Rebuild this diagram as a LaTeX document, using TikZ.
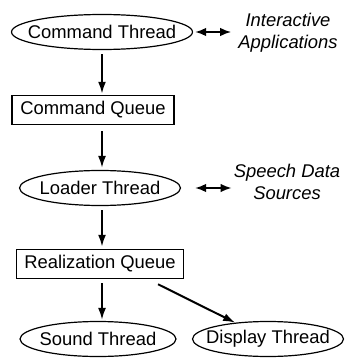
\documentclass[tikz,border=0pt]{standalone}
\usepackage{fontspec}
\setmainfont{Liberation Sans}
\usetikzlibrary{shapes.geometric,arrows.meta}

\begin{document}
\begin{tikzpicture}[
x=1pt,y=-1pt,
thread/.style={
  draw,
  ellipse,
  line width=1.2pt,
  inner sep=0pt,
  minimum height=35pt
  },
queue/.style={
  draw,
  line width=1.5pt,
  inner sep=0pt,
  minimum height=29pt
  },
source/.style={
  align=center,
  inner sep=0pt,
  font=\fontsize{18.4}{22}\selectfont\itshape
  },
flow/.style={-{Latex[length=12pt,width=8pt]},line width=2pt},
both/.style={{Latex[length=11pt,width=8.5pt]}-{Latex[length=11pt,width=8.5pt]},line width=1.8pt},
every node/.append style={font=\fontsize{18.4}{22}\selectfont}
]
\useasboundingbox (0,0) rectangle (345,361);
\node[thread,minimum width=181pt] (cmdT) at (102,32) {\makebox[0pt]{Command Thread}};
\node[queue,minimum width=162pt] (cmdQ) at (93,110) {Command Queue};
\node[thread,minimum width=161pt] (loadT) at (100,188) {\makebox[0pt]{Loader Thread}};
\node[queue,minimum width=167pt] (realQ) at (100,264) {Realization Queue};
\node[thread,minimum width=156pt] (soundT) at (98,339) {\makebox[0pt]{Sound Thread}};
\node[thread,minimum width=151pt] (dispT) at (268,339) {\makebox[0pt]{Display Thread}};
\node[source] (interApp) at (288,33) {Interactive\\Applications};
\node[source] (speech) at (287,182) {Speech Data\\Sources};
\coordinate (split) at ([shift={(58,5)}]realQ.south);
% column of threads and queues
\draw[flow,shorten <=4pt,shorten >=1pt] (cmdT.south) -- (cmdT.south |- cmdQ.north);
\draw[flow,shorten <=6pt,shorten >=2pt] (cmdT.south |- cmdQ.south) -- (cmdT.south |- loadT.north);
\draw[flow,shorten <=4pt,shorten >=2pt] (cmdT.south |- loadT.south) -- (cmdT.south |- realQ.north);
\draw[flow,shorten <=4pt,shorten >=1pt] (cmdT.south |- realQ.south) -- (cmdT.south |- soundT.north);
\draw[flow] (split) -- (dispT);
% outside sources
\draw[both,shorten <=2pt,shorten >=7pt] (cmdT.east) -- (cmdT.east -| interApp.west);
\draw[both,shorten <=14pt,shorten >=2pt] (loadT.east) -- (loadT.east -| speech.west);
\end{tikzpicture}
\end{document}
